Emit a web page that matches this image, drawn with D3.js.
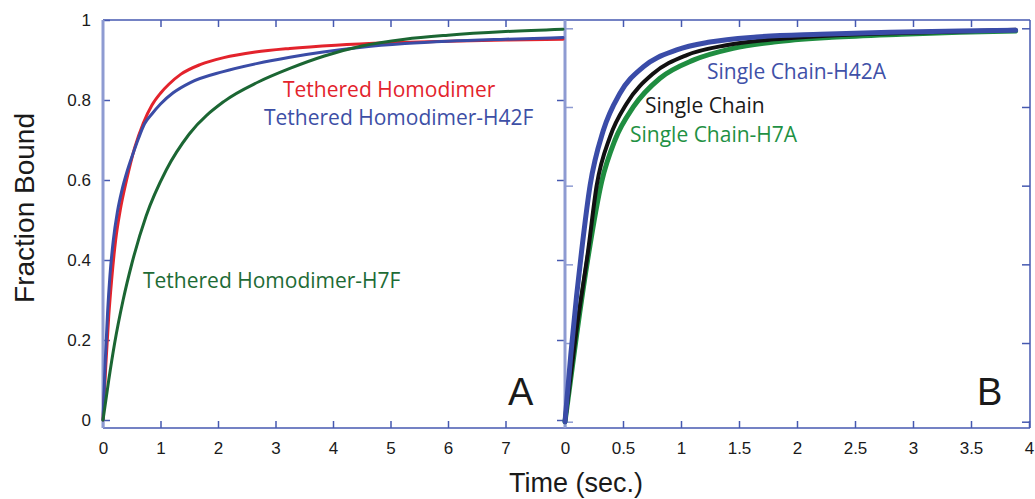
<!DOCTYPE html>
<html>
<head>
<meta charset="utf-8">
<script src="https://cdn.jsdelivr.net/npm/d3@7"></script>
<style>
  html, body { margin: 0; padding: 0; background: #fff; }
  svg { display: block; }
</style>
</head>
<body>
<svg id="chart" width="1035" height="499"></svg>
<script>
// ---- Panel A: tethered homodimer binding traces ----
const thTime   = [0, 0.05, 0.1, 0.15, 0.22, 0.3, 0.41, 0.55, 0.7, 0.85, 1.0, 1.15, 1.35, 1.7, 2.1, 2.65, 3.25, 4.05, 5, 6, 7, 8];
const thFrac   = [0, 0.14, 0.26, 0.35, 0.45, 0.525, 0.60, 0.68, 0.742, 0.787, 0.817, 0.84, 0.864, 0.889, 0.906, 0.92, 0.929, 0.937, 0.943, 0.947, 0.95, 0.952];

const h42fTime = [0, 0.04, 0.08, 0.12, 0.18, 0.25, 0.33, 0.42, 0.52, 0.62, 0.72, 0.85, 1.0, 1.22, 1.51, 2.09, 2.67, 3.25, 3.83, 4.5, 5.25, 6, 7, 8];
const h42fFrac = [0, 0.15, 0.27, 0.36, 0.45, 0.52, 0.575, 0.622, 0.665, 0.705, 0.74, 0.765, 0.79, 0.818, 0.843, 0.871, 0.891, 0.907, 0.92, 0.932, 0.941, 0.947, 0.952, 0.956];

const h7fTime  = [0, 0.1, 0.2, 0.35, 0.5, 0.75, 1.1, 1.5, 2.1, 2.7, 3.25, 3.85, 4.5, 5.25, 6, 7, 8];
const h7fFrac  = [0, 0.10, 0.19, 0.30, 0.39, 0.51, 0.625, 0.715, 0.796, 0.845, 0.879, 0.91, 0.935, 0.952, 0.962, 0.971, 0.977];

// ---- Panel B: single chain binding traces ----
const scTime    = [0, 0.05, 0.1, 0.2, 0.273, 0.388, 0.532, 0.761, 1.05, 1.39, 1.8, 2.3, 2.9, 3.4, 3.885];
const scFrac    = [0, 0.12, 0.235, 0.436, 0.60, 0.724, 0.809, 0.885, 0.932, 0.957, 0.972, 0.982, 0.988, 0.992, 0.996];

const h42aTime  = [0, 0.05, 0.1, 0.144, 0.216, 0.33, 0.474, 0.675, 0.963, 1.25, 1.65, 2.2, 2.8, 3.4, 3.885];
const h42aFrac  = [0, 0.17, 0.32, 0.436, 0.60, 0.74, 0.835, 0.902, 0.945, 0.965, 0.978, 0.985, 0.99, 0.993, 0.995];

const h7aTime   = [0, 0.05, 0.1, 0.2, 0.316, 0.431, 0.589, 0.819, 1.106, 1.45, 1.8, 2.3, 2.9, 3.4, 3.885];
const h7aFrac   = [0, 0.11, 0.22, 0.42, 0.61, 0.716, 0.80, 0.873, 0.919, 0.949, 0.965, 0.977, 0.985, 0.99, 0.993];

// ---- Tick values and labels ----
const yTicks     = [0, 0.2, 0.4, 0.6, 0.8, 1];
const yTickText  = ["0", "0.2", "0.4", "0.6", "0.8", "1"];
const xTicksA    = [0, 1, 2, 3, 4, 5, 6, 7];
const xTicksB    = [0, 0.5, 1, 1.5, 2, 2.5, 3, 3.5, 4];
const xTickTextB = ["0", "0.5", "1", "1.5", "2", "2.5", "3", "3.5", "4"];

const svg = d3.select("#chart");
const axisBlue = "#4659b0";
const axisLight = "#8e9bd2";
const tickFont = "'Liberation Sans', Arial, Helvetica, sans-serif";
const labelFont = "'Open Sans', 'Noto Sans', sans-serif";

// frame geometry
const frameTop = 20, frameBottom = 428, frameLeft = 103, frameMid = 565, frameRight = 1030;

const xA = d3.scaleLinear().domain([0, 8]).range([frameLeft, 563]);
const yA = d3.scaleLinear().domain([0, 1]).range([420, 20]);
const xB = d3.scaleLinear().domain([0, 4]).range([frameMid, 1029]);
const yB = d3.scaleLinear().domain([0, 1]).range([421.7, 28.3]);

function styleAxis(g, color) {
  g.select(".domain").remove();
  g.selectAll(".tick line").attr("stroke", color).attr("stroke-width", 1.5);
  g.selectAll(".tick text")
    .attr("fill", "#1a1a1a")
    .style("font-family", tickFont)
    .style("font-size", "17px");
}

// ---- Panel A axes ----
svg.append("g").attr("transform", `translate(${frameLeft},0)`)
  .call(d3.axisLeft(yA).tickValues(yTicks).tickFormat((d, i) => yTickText[i])
        .tickSize(-7).tickPadding(12))
  .call(g => styleAxis(g, axisBlue));

svg.append("g").attr("transform", `translate(0,${frameBottom})`)
  .call(d3.axisBottom(xA).tickValues(xTicksA).tickFormat(d => String(d))
        .tickSize(-7).tickPadding(14))
  .call(g => styleAxis(g, axisBlue));

svg.append("g").attr("transform", `translate(0,${frameTop})`)
  .call(d3.axisTop(xA).tickValues(xTicksA.slice(1)).tickFormat("")
        .tickSize(-7))
  .call(g => styleAxis(g, axisBlue));

svg.append("g").attr("transform", `translate(${frameMid},0)`)
  .call(d3.axisRight(yA).tickValues(yTicks.slice(0, 5)).tickFormat("")
        .tickSize(-8))
  .call(g => styleAxis(g, axisBlue));

// ---- Panel B axes ----
svg.append("g").attr("transform", `translate(${frameMid},0)`)
  .call(d3.axisLeft(yB).tickValues(yTicks).tickFormat("").tickSize(-8))
  .call(g => styleAxis(g, axisLight));

svg.append("g").attr("transform", `translate(${frameRight},0)`)
  .call(d3.axisRight(yB).tickValues(yTicks).tickFormat("").tickSize(-8))
  .call(g => styleAxis(g, axisBlue));

svg.append("g").attr("transform", `translate(0,${frameBottom})`)
  .call(d3.axisBottom(xB).tickValues(xTicksB).tickFormat((d, i) => xTickTextB[i])
        .tickSize(-7).tickPadding(14))
  .call(g => styleAxis(g, axisBlue));

svg.append("g").attr("transform", `translate(0,${frameTop})`)
  .call(d3.axisTop(xB).tickValues(xTicksB.slice(1, 8)).tickFormat("")
        .tickSize(-7))
  .call(g => styleAxis(g, axisBlue));

// ---- Frame lines ----
const frame = svg.append("g");
frame.append("line").attr("x1", frameLeft).attr("x2", frameRight).attr("y1", frameTop).attr("y2", frameTop)
  .attr("stroke", axisBlue).attr("stroke-width", 1.5);
frame.append("line").attr("x1", frameLeft).attr("x2", frameRight).attr("y1", frameBottom).attr("y2", frameBottom)
  .attr("stroke", axisBlue).attr("stroke-width", 1.5);
frame.append("line").attr("x1", frameRight).attr("x2", frameRight).attr("y1", frameTop).attr("y2", frameBottom)
  .attr("stroke", axisBlue).attr("stroke-width", 1.5);
frame.append("line").attr("x1", frameLeft).attr("x2", frameLeft).attr("y1", frameTop).attr("y2", frameBottom)
  .attr("stroke", axisLight).attr("stroke-width", 3);
frame.append("line").attr("x1", frameMid).attr("x2", frameMid).attr("y1", frameTop).attr("y2", frameBottom)
  .attr("stroke", axisLight).attr("stroke-width", 3);

// ---- Traces ----
function trace(times, fracs, xs, ys, color, width) {
  const pts = times.map((t, i) => [t, fracs[i]]);
  const line = d3.line().x(d => xs(d[0])).y(d => ys(d[1])).curve(d3.curveMonotoneX);
  svg.append("path").datum(pts)
    .attr("d", line)
    .attr("fill", "none")
    .attr("stroke", color)
    .attr("stroke-width", width)
    .attr("stroke-linejoin", "round")
    .attr("stroke-linecap", "round");
}

trace(thTime, thFrac, xA, yA, "#e3232c", 3);
trace(h42fTime, h42fFrac, xA, yA, "#3a4ca6", 3);
trace(h7fTime, h7fFrac, xA, yA, "#1b6633", 3);

trace(h7aTime, h7aFrac, xB, yB, "#1f8d40", 5);
trace(scTime, scFrac, xB, yB, "#111111", 4);
trace(h42aTime, h42aFrac, xB, yB, "#3a4ca8", 5);

// ---- Trace labels ----
const labels = [
  { text: "Tethered Homodimer",      x: 283, y: 97,  color: "#e3232c" },
  { text: "Tethered Homodimer-H42F", x: 264, y: 125, color: "#3d4fa6" },
  { text: "Tethered Homodimer-H7F",  x: 143, y: 288, color: "#1e6b35" },
  { text: "Single Chain-H42A",       x: 707, y: 79,  color: "#3f51a8" },
  { text: "Single Chain",            x: 645, y: 113, color: "#1a1a1a" },
  { text: "Single Chain-H7A",        x: 630, y: 142, color: "#1f9144" }
];
svg.append("g").selectAll("text").data(labels).join("text")
  .attr("x", d => d.x).attr("y", d => d.y)
  .attr("fill", d => d.color)
  .style("font-family", labelFont)
  .style("font-size", "21px")
  .text(d => d.text);

// ---- Panel letters ----
svg.append("text").attr("x", 508).attr("y", 405).text("A")
  .attr("fill", "#1a1a1a").style("font-family", tickFont).style("font-size", "38px");
svg.append("text").attr("x", 977).attr("y", 405).text("B")
  .attr("fill", "#1a1a1a").style("font-family", tickFont).style("font-size", "38px");

// ---- Axis titles ----
svg.append("text").attr("x", 576).attr("y", 492).attr("text-anchor", "middle")
  .text("Time (sec.)")
  .attr("fill", "#1a1a1a").style("font-family", tickFont).style("font-size", "27px");
svg.append("text").attr("transform", "translate(34,208) rotate(-90)")
  .attr("text-anchor", "middle")
  .text("Fraction Bound")
  .attr("fill", "#1a1a1a").style("font-family", tickFont).style("font-size", "28px");
</script>
</body>
</html>
